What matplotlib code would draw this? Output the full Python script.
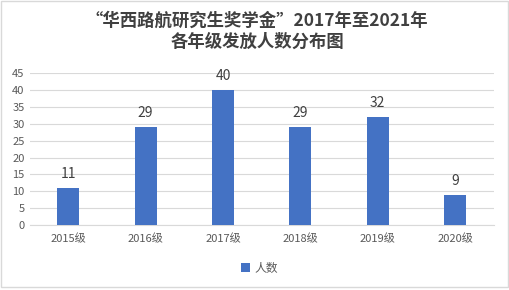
import matplotlib
matplotlib.use('Agg')
import matplotlib.pyplot as plt
from matplotlib.patches import Rectangle

plt.rcParams['font.family'] = ['Noto Sans CJK SC', 'DejaVu Sans']

# 数据
grades = ['2015级', '2016级', '2017级', '2018级', '2019级', '2020级']
counts = [11, 29, 40, 29, 32, 9]

fig = plt.figure(figsize=(5.09, 2.90), dpi=100)
ax = fig.add_axes([0.058, 0.224, 0.912, 0.524])

bars = ax.bar(grades, counts, width=0.285, color='#4472C4', label='人数', zorder=3)
for b, v in zip(bars, counts):
    ax.text(b.get_x() + b.get_width() / 2, v + 2.0, str(v), ha='center', va='bottom',
            fontsize=10, color='#404040')

ax.set_ylim(0, 45)
ax.set_yticks(range(0, 50, 5))
ax.set_xlim(-0.5, len(grades) - 0.5)
ax.grid(axis='y', color='#D9D9D9', linewidth=0.8, zorder=0)
for s in ['top', 'right', 'left']:
    ax.spines[s].set_visible(False)
ax.spines['bottom'].set_color('#D9D9D9')
ax.tick_params(axis='both', length=0, labelsize=8, colors='#595959')
ax.tick_params(axis='x', pad=6)

fig.text(0.505, 0.892, '“华西路航研究生奖学金”2017年至2021年\n各年级发放人数分布图',
         ha='center', va='center', fontsize=12.5, fontweight='bold', color='#404040',
         linespacing=1.25)

fig.legend(loc='center', bbox_to_anchor=(0.51, 0.075), frameon=False, fontsize=8.5,
           handlelength=0.7, handleheight=0.7, handletextpad=0.4, labelcolor='#595959')

# 外框
fig.patches.append(Rectangle((0.002, 0.01), 0.996, 0.988, transform=fig.transFigure,
                             fill=False, edgecolor='#D9D9D9', linewidth=1))

fig.savefig('out.png', dpi=100)
